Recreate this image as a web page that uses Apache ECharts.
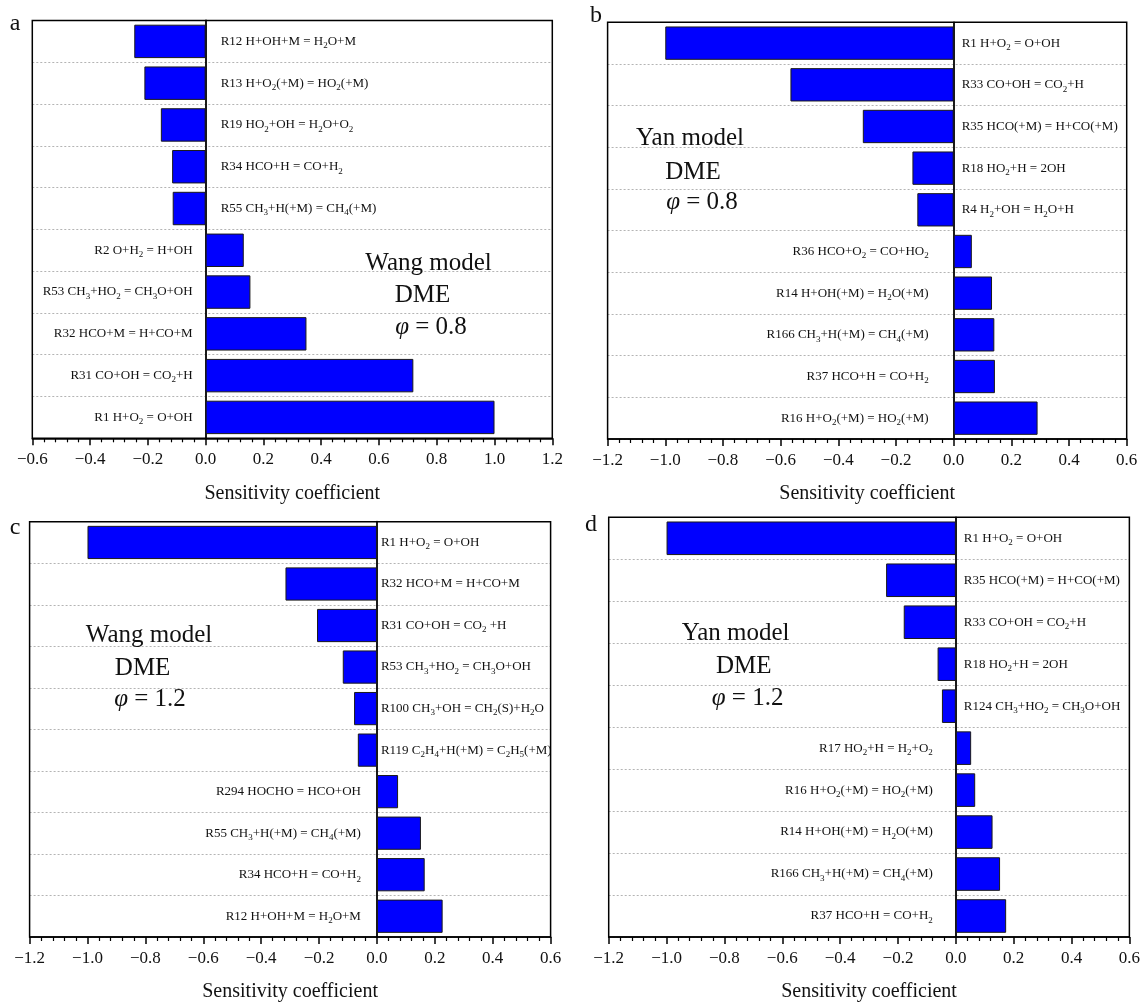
<!DOCTYPE html>
<html>
<head>
<meta charset="utf-8">
<script src="https://cdn.jsdelivr.net/npm/echarts@6/dist/echarts.min.js"></script>
<style>
  html, body { margin: 0; padding: 0; background: #fff; }
  #chart { width: 1143px; height: 1003px; }
</style>
</head>
<body>
<div id="chart"></div>
<script>
// Reaction labels: "_n" marks a subscript n
const catsA = [
  'R12 H+OH+M = H_2O+M',
  'R13 H+O_2(+M) = HO_2(+M)',
  'R19 HO_2+OH = H_2O+O_2',
  'R34 HCO+H = CO+H_2',
  'R55 CH_3+H(+M) = CH_4(+M)',
  'R2 O+H_2 = H+OH',
  'R53 CH_3+HO_2 = CH_3O+OH',
  'R32 HCO+M = H+CO+M',
  'R31 CO+OH = CO_2+H',
  'R1 H+O_2 = O+OH'
];
const valsA = [-0.247, -0.212, -0.155, -0.116, -0.114, 0.132, 0.155, 0.349, 0.719, 1.0];

const catsB = [
  'R1 H+O_2 = O+OH',
  'R33 CO+OH = CO_2+H',
  'R35 HCO(+M) = H+CO(+M)',
  'R18 HO_2+H = 2OH',
  'R4 H_2+OH = H_2O+H',
  'R36 HCO+O_2 = CO+HO_2',
  'R14 H+OH(+M) = H_2O(+M)',
  'R166 CH_3+H(+M) = CH_4(+M)',
  'R37 HCO+H = CO+H_2',
  'R16 H+O_2(+M) = HO_2(+M)'
];
const valsB = [-1.0, -0.566, -0.315, -0.143, -0.126, 0.063, 0.133, 0.141, 0.143, 0.291];

const catsC = [
  'R1 H+O_2 = O+OH',
  'R32 HCO+M = H+CO+M',
  'R31 CO+OH = CO_2 +H',
  'R53 CH_3+HO_2 = CH_3O+OH',
  'R100 CH_3+OH = CH_2(S)+H_2O',
  'R119 C_2H_4+H(+M) = C_2H_5(+M)',
  'R294 HOCHO = HCO+OH',
  'R55 CH_3+H(+M) = CH_4(+M)',
  'R34 HCO+H = CO+H_2',
  'R12 H+OH+M = H_2O+M'
];
const valsC = [-1.0, -0.316, -0.207, -0.118, -0.079, -0.066, 0.073, 0.152, 0.165, 0.227];

const catsD = [
  'R1 H+O_2 = O+OH',
  'R35 HCO(+M) = H+CO(+M)',
  'R33 CO+OH = CO_2+H',
  'R18 HO_2+H = 2OH',
  'R124 CH_3+HO_2 = CH_3O+OH',
  'R17 HO_2+H = H_2+O_2',
  'R16 H+O_2(+M) = HO_2(+M)',
  'R14 H+OH(+M) = H_2O(+M)',
  'R166 CH_3+H(+M) = CH_4(+M)',
  'R37 HCO+H = CO+H_2'
];
const valsD = [-1.0, -0.241, -0.180, -0.063, -0.048, 0.053, 0.067, 0.127, 0.153, 0.174];

// Axis ranges (min, max) per panel
const rangeA = [-0.6, 1.2];
const rangeB = [-1.2, 0.6];
const rangeC = [-1.2, 0.6];
const rangeD = [-1.2, 0.6];

const panelLetters = ['a', 'b', 'c', 'd'];
const modelNames = ['Wang model', 'Yan model', 'Wang model', 'Yan model'];
const fuelName = 'DME';
const phiValues = ['0.8', '0.8', '1.2', '1.2'];
const axisTitle = 'Sensitivity coefficient';

const FONT = '"Liberation Serif", "Times New Roman", serif';
const INK = '#111';

// Turn "H_2O" into rich-text tokens with a lowered small "2"
function toRich(s) {
  return s.split(/(_\d+)/).filter(Boolean).map(function (p) {
    return p[0] === '_' ? '{s|' + p.slice(1) + '}' : '{n|' + p + '}';
  }).join('');
}

const richStyles = {
  n: { fontFamily: FONT, fontSize: 13, color: INK, lineHeight: 18 },
  s: { fontFamily: FONT, fontSize: 9, color: INK, lineHeight: 18, verticalAlign: 'bottom' }
};

const panels = [
  { cats: catsA, vals: valsA, range: rangeA, grid: { left: 32.3, top: 20.5, width: 520, height: 417.8 }, distNeg: 15, distPos: 13 },
  { cats: catsB, vals: valsB, range: rangeB, grid: { left: 607.6, top: 22.3, width: 519.1, height: 416.7 }, distNeg: 8, distPos: 25 },
  { cats: catsC, vals: valsC, range: rangeC, grid: { left: 29.6, top: 521.7, width: 521, height: 418.3 }, distNeg: 4, distPos: 16 },
  { cats: catsD, vals: valsD, range: rangeD, grid: { left: 608.7, top: 517.3, width: 523, height: 420 }, distNeg: 8, distPos: 23 }
];

const grids = [], xAxes = [], yAxes = [], series = [];

panels.forEach(function (p, i) {
  // frame drawn above the dotted row separators
  grids.push(Object.assign({ show: true, z: 5, borderColor: '#000', borderWidth: 1.5, backgroundColor: 'transparent' }, p.grid));
  xAxes.push({
    type: 'value', gridIndex: i, min: p.range[0], max: p.range[1], interval: 0.2,
    name: axisTitle, nameLocation: 'middle', nameGap: 45,
    nameTextStyle: { fontFamily: FONT, fontSize: 20, color: INK },
    axisLine: { show: true, onZero: false, lineStyle: { color: '#000', width: 1.5 } },
    axisTick: { show: true, inside: false, length: 7, lineStyle: { color: '#000', width: 1.5 } },
    minorTick: { show: true, splitNumber: 5, length: 4, lineStyle: { color: '#000', width: 1.2 } },
    splitLine: { show: false },
    axisLabel: {
      margin: 13, fontFamily: FONT, fontSize: 17, color: INK,
      formatter: function (v) { return (v < 0 ? '\u2212' : '') + Math.abs(v).toFixed(1); }
    }
  });
  yAxes.push({
    type: 'category', gridIndex: i, data: p.cats, inverse: true,
    axisLine: { show: true, onZero: true, lineStyle: { color: '#000', width: 1.8 } },
    axisTick: { show: false },
    axisLabel: { show: false },
    splitLine: { show: true, lineStyle: { color: '#b4b4b4', width: 1, type: [2, 2] } }
  });
  series.push({
    type: 'bar', xAxisIndex: i, yAxisIndex: i, barWidth: '80%',
    itemStyle: { color: '#0000ff', borderColor: '#1a1a1a', borderWidth: 1 },
    z: 3,
    data: p.vals.map(function (v, k) {
      return {
        value: v,
        label: {
          show: true,
          position: v < 0 ? 'right' : 'left',
          distance: v < 0 ? p.distNeg : p.distPos,
          formatter: toRich(p.cats[k]),
          rich: richStyles
        }
      };
    })
  });
});

// Panel letters and the model / mixture notes
const letterPos = [[15, 23.5], [596, 16], [15, 528], [591, 525]];
const notePos = [
  [[428.5, 263], [422.5, 295], [431, 327.5]],
  [[690, 138], [693, 172], [702, 202]],
  [[149, 635], [142.6, 668.3], [150, 699]],
  [[735.6, 633.3], [743.7, 666.7], [747.6, 698.3]]
];

const graphics = [];
panelLetters.forEach(function (l, i) {
  graphics.push({
    type: 'text', x: letterPos[i][0], y: letterPos[i][1], z: 10,
    style: { text: l, font: '24px ' + FONT, fill: INK, textAlign: 'center', textVerticalAlign: 'middle' }
  });
  const np = notePos[i];
  graphics.push({
    type: 'text', x: np[0][0], y: np[0][1], z: 10,
    style: { text: modelNames[i], font: '25px ' + FONT, fill: INK, textAlign: 'center', textVerticalAlign: 'middle' }
  });
  graphics.push({
    type: 'text', x: np[1][0], y: np[1][1], z: 10,
    style: { text: fuelName, font: '25px ' + FONT, fill: INK, textAlign: 'center', textVerticalAlign: 'middle' }
  });
  graphics.push({
    type: 'text', x: np[2][0], y: np[2][1], z: 10,
    style: {
      text: '{i|\u03c6}{r| = ' + phiValues[i] + '}',
      textAlign: 'center', textVerticalAlign: 'middle',
      rich: {
        i: { fontFamily: FONT, fontSize: 25, fontStyle: 'italic', fill: INK, color: INK },
        r: { fontFamily: FONT, fontSize: 25, fill: INK, color: INK }
      }
    }
  });
});

const chart = echarts.init(document.getElementById('chart'), null, { renderer: 'canvas' });
chart.setOption({
  backgroundColor: '#fff',
  animation: false,
  grid: grids,
  xAxis: xAxes,
  yAxis: yAxes,
  series: series,
  graphic: graphics
});
</script>
</body>
</html>
